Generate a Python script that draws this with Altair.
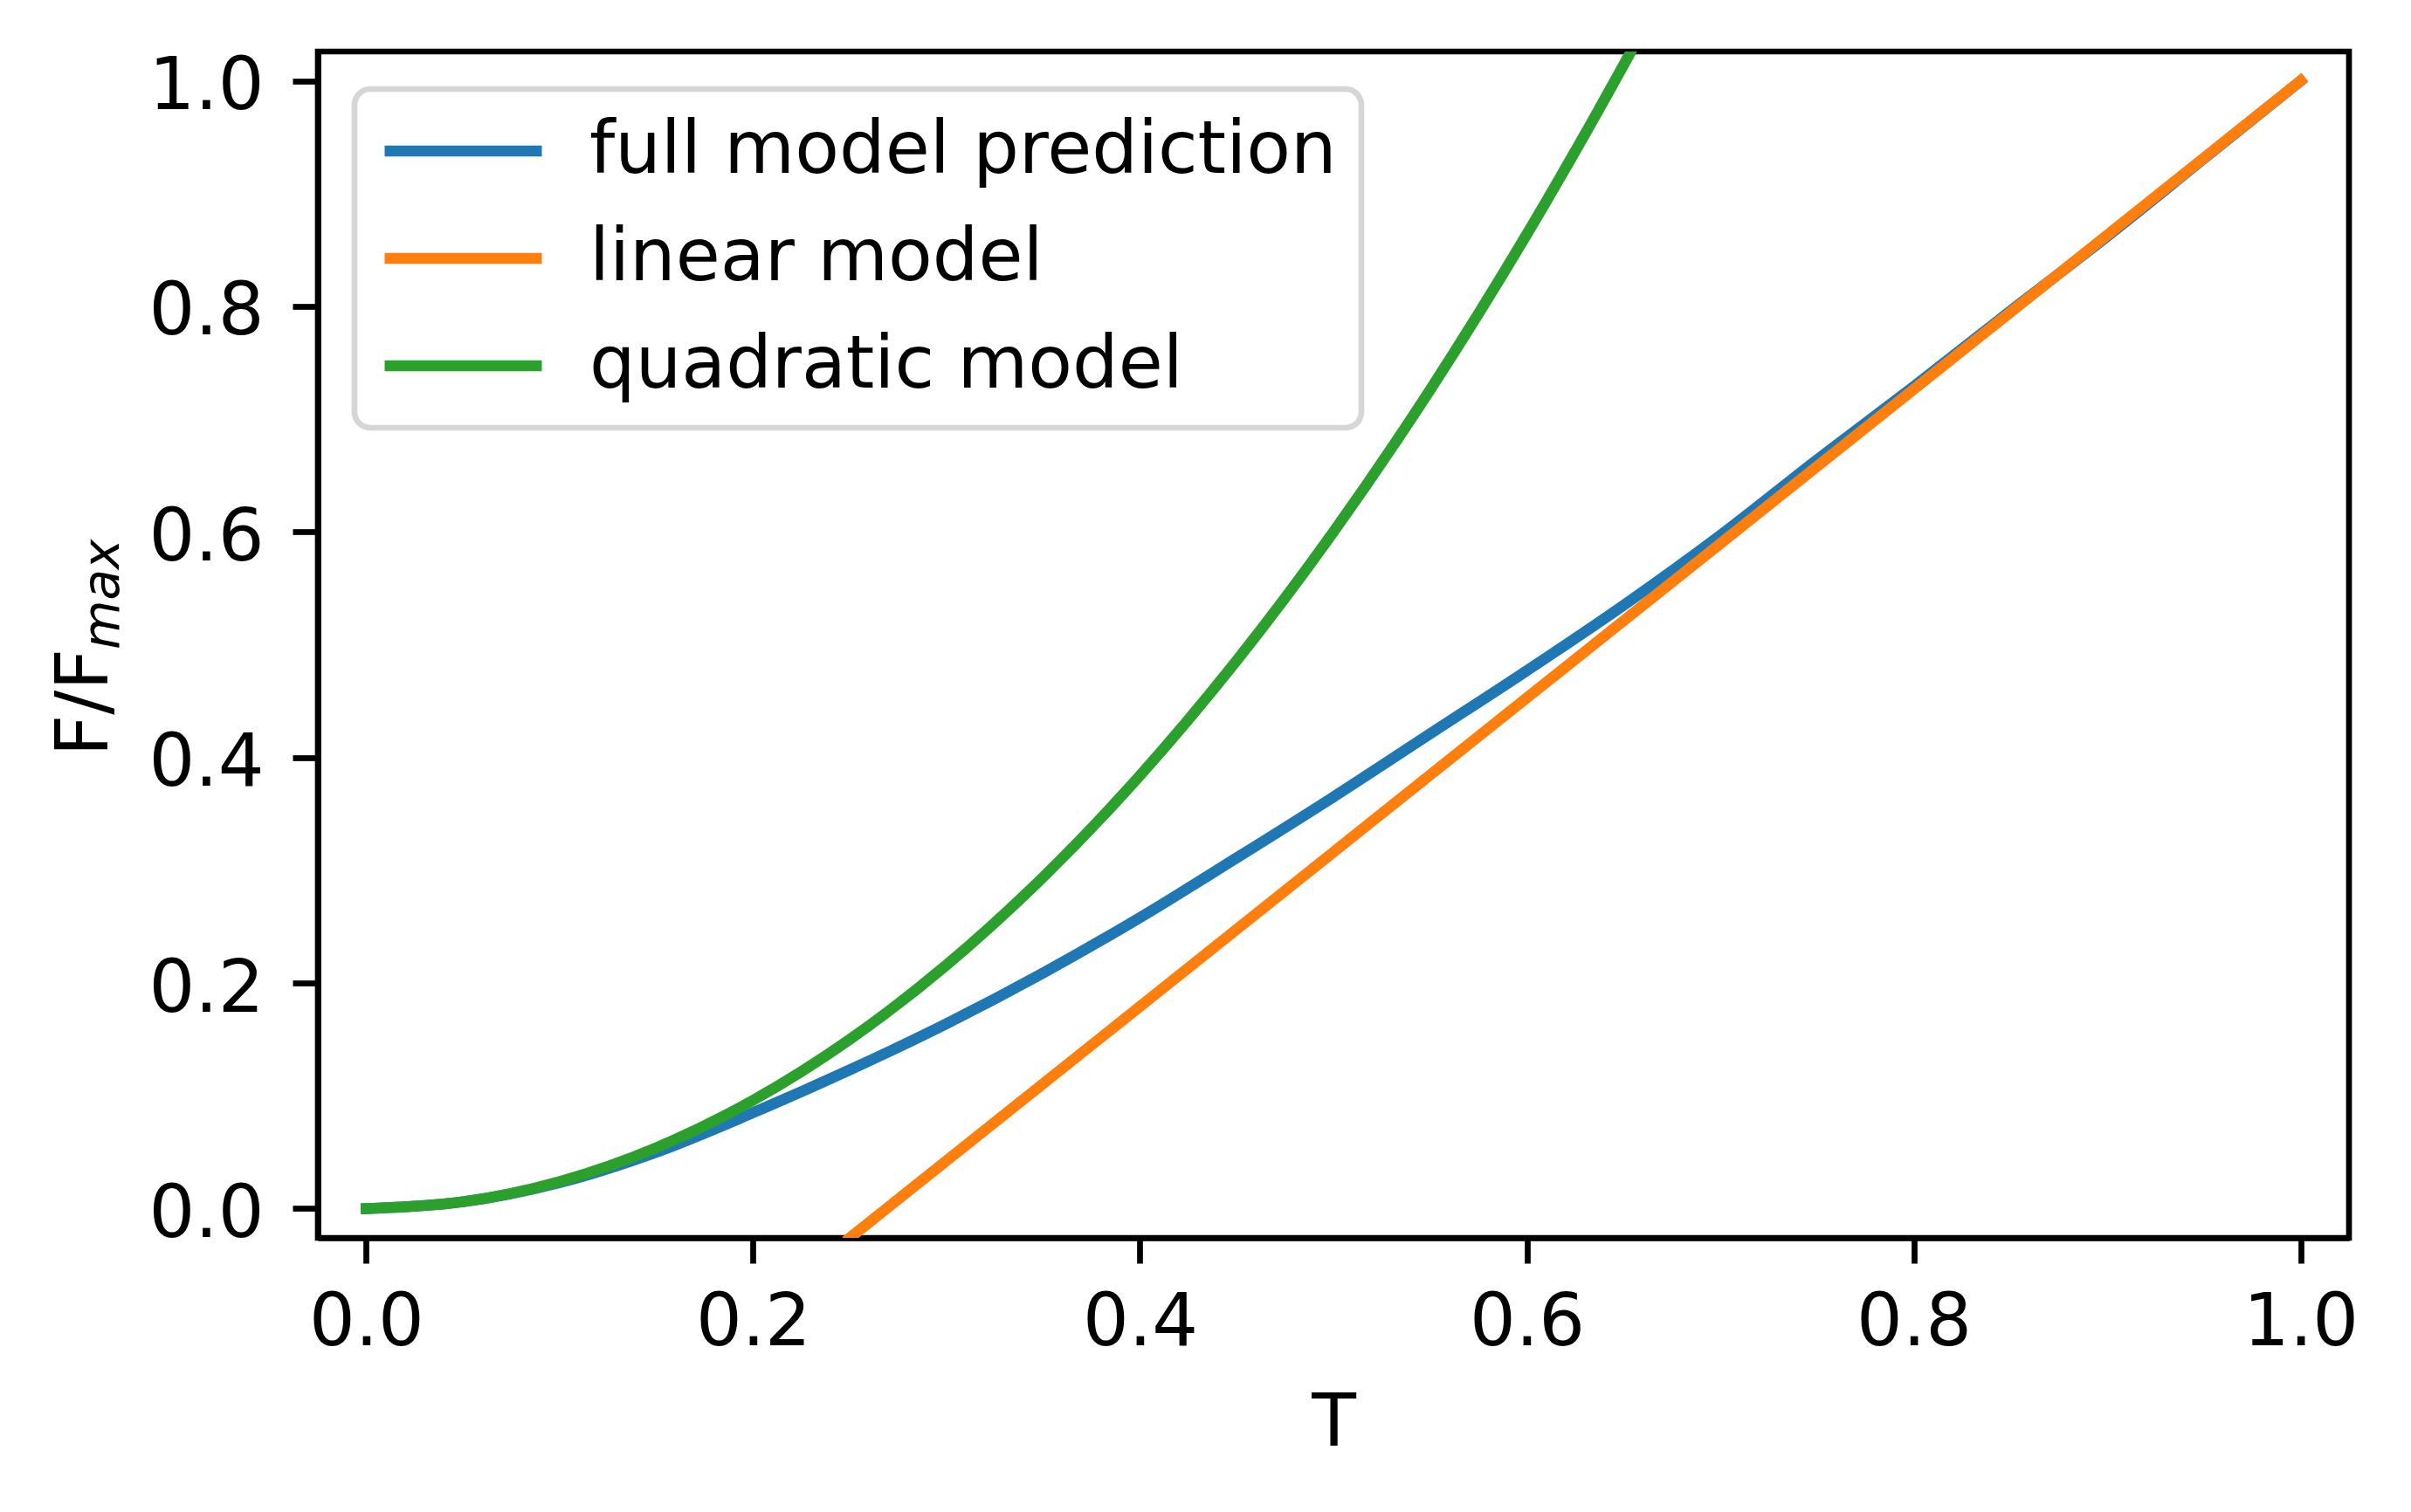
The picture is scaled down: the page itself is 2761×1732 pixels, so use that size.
import altair as alt
import pandas as pd

# ---- data ----
MODELS = ["full model prediction", "linear model", "quadratic model"]
COLORS = ["#1f77b4", "#ff7f0e", "#2ca02c"]

T_FULL = [0.0, 0.05, 0.1, 0.15, 0.2, 0.25, 0.3, 0.35, 0.4, 0.45, 0.5,
          0.55, 0.6, 0.65, 0.7, 0.75, 0.8, 0.85, 0.9, 0.95, 1.0]
F_FULL = [0.0, 0.006, 0.023, 0.050, 0.085, 0.123, 0.164, 0.209, 0.258, 0.311, 0.365,
          0.421, 0.477, 0.535, 0.597, 0.664, 0.729, 0.796, 0.862, 0.931, 1.0]

T_LIN = [0.25, 1.0]
F_LIN = [-0.026, 1.0]

T_QUAD = [0.0, 0.05, 0.1, 0.15, 0.2, 0.25, 0.3, 0.35, 0.4, 0.45, 0.5,
          0.55, 0.6, 0.65, 0.7]
F_QUAD = [0.0, 0.006, 0.024, 0.054, 0.096, 0.150, 0.216, 0.294, 0.384, 0.486, 0.600,
          0.726, 0.864, 1.014, 1.176]

X_TICKS = [0.0, 0.2, 0.4, 0.6, 0.8, 1.0]
Y_TICKS = [0.0, 0.2, 0.4, 0.6, 0.8, 1.0]

df = pd.concat([
    pd.DataFrame({"T": T_FULL, "F": F_FULL, "model": MODELS[0]}),
    pd.DataFrame({"T": T_LIN, "F": F_LIN, "model": MODELS[1]}),
    pd.DataFrame({"T": T_QUAD, "F": F_QUAD, "model": MODELS[2]}),
], ignore_index=True)

FONT = "DejaVu Sans"

x_enc = alt.X(
    "T:Q",
    scale=alt.Scale(domain=[-0.025, 1.025], nice=False, zero=False),
    axis=alt.Axis(values=X_TICKS, format=".1f", title="T", labelPadding=27,
                  labelFlush=False, titleY=237, titleBaseline="alphabetic"),
)
y_enc = alt.Y(
    "F:Q",
    scale=alt.Scale(domain=[-0.026, 1.026], nice=False, zero=False),
    axis=alt.Axis(values=Y_TICKS, format=".1f", title="F/F", labelPadding=33,
                  labelOffset=7, titleAngle=270, titleAlign="left",
                  titleBaseline="alphabetic", titleX=-242, titleY=807),
)
color_enc = alt.Color(
    "model:N",
    scale=alt.Scale(domain=MODELS, range=COLORS),
    legend=alt.Legend(title=None, orient="none", legendX=42, legendY=43,
                      symbolType="stroke", symbolSize=32400, symbolStrokeWidth=12.5,
                      clipHeight=86, rowPadding=37, labelOffset=48,
                      labelFontSize=83, labelFont=FONT, labelColor="black",
                      labelLimit=3000, padding=28, strokeColor="#d6d6d6",
                      cornerRadius=18, fillColor="white"),
)

layers = []
for m in MODELS:
    layers.append(
        alt.Chart(df)
        .transform_filter(alt.datum.model == m)
        .mark_line(strokeWidth=12.5, strokeCap="square", strokeJoin="round",
                   clip=True, interpolate="monotone")
        .encode(x=x_enc, y=y_enc, color=color_enc)
    )

sub = (
    alt.Chart(pd.DataFrame({"sub": ["max"]}))
    .mark_text(angle=270, align="left", baseline="alphabetic", fontStyle="italic",
               fontSize=58, font=FONT, color="black")
    .encode(x=alt.value(-228), y=alt.value(685), text="sub:N")
)

chart = (
    alt.layer(*layers, sub)
    .properties(width=2326, height=1359,
                autosize=alt.AutoSizeParams(type="none"),
                padding={"left": 356, "top": 51, "right": 60, "bottom": 300})
    .configure_view(stroke="black", strokeWidth=6.7)
    .configure_axis(grid=False, domainColor="black", domainWidth=6.7,
                    tickColor="black", tickWidth=6.7, tickSize=29,
                    labelFont=FONT, labelFontSize=83, labelColor="black",
                    titleFont=FONT, titleFontSize=83, titleFontWeight="normal",
                    titleColor="black")
    .configure_legend(strokeWidth=6.7)
)

chart.save("out.html", embed_options={"renderer": "svg", "actions": False})
